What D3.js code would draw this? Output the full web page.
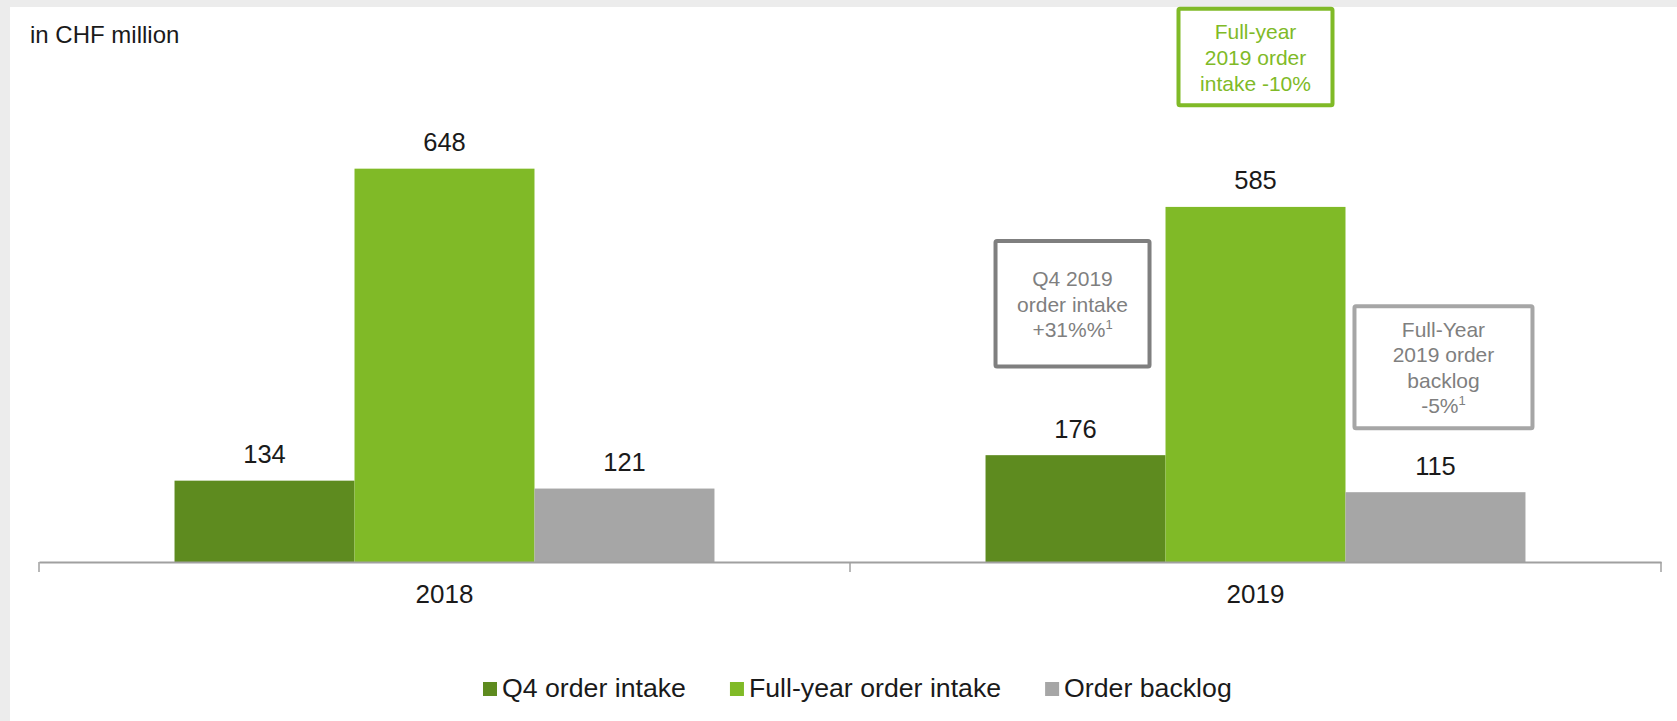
<!DOCTYPE html>
<html>
<head>
<meta charset="utf-8">
<script src="https://cdn.jsdelivr.net/npm/d3@7"></script>
<style>
  html, body { margin: 0; padding: 0; background: #ececec; }
  svg { display: block; font-family: "Liberation Sans", Arial, sans-serif; }
</style>
</head>
<body>
<svg id="chart" width="1677" height="721"></svg>
<script>
// ---- Data ----
const categories = ["2018", "2019"];
const seriesNames = ["Q4 order intake", "Full-year order intake", "Order backlog"];
const q4Intake = [134, 176];
const fullYearIntake = [648, 585];
const orderBacklog = [121, 115];
const seriesColors = ["#5e8b1f", "#80ba27", "#a6a6a6"];
const unitLabel = "in CHF million";
const noteFullYear = ["Full-year", "2019 order", "intake -10%"];
const noteQ4 = ["Q4 2019", "order intake", "+31%%"];
const noteBacklog = ["Full-Year", "2019 order", "backlog", "-5%"];

const seriesValues = [q4Intake, fullYearIntake, orderBacklog];
const rows = categories.map((c, i) => ({
  cat: c,
  vals: seriesNames.map((s, j) => ({ series: s, idx: j, value: seriesValues[j][i] }))
}));

const W = 1677, H = 721;
const svg = d3.select("#chart");

// panel background
svg.append("rect").attr("x", 10).attr("y", 7).attr("width", W - 10).attr("height", H - 7).attr("fill", "#ffffff");

// ---- Scales ----
const baseY = 562;
const x0 = d3.scaleBand().domain(categories).range([39, 1661]).paddingInner(0).paddingOuter(0);
const x1 = d3.scaleBand().domain(seriesNames).range([0, x0.bandwidth()]).paddingInner(0).paddingOuter(0.753);
const y = d3.scaleLinear().domain([0, 700]).range([baseY, baseY - 700 * 0.607]);

// ---- Bars ----
const g = svg.append("g");
const groups = g.selectAll("g.grp").data(rows).join("g")
  .attr("class", "grp")
  .attr("transform", d => `translate(${x0(d.cat)},0)`);

groups.selectAll("rect").data(d => d.vals).join("rect")
  .attr("x", d => x1(d.series))
  .attr("y", d => y(d.value))
  .attr("width", x1.bandwidth())
  .attr("height", d => y(0) - y(d.value))
  .attr("fill", d => seriesColors[d.idx]);

groups.selectAll("text.val").data(d => d.vals).join("text")
  .attr("class", "val")
  .attr("x", d => x1(d.series) + x1.bandwidth() / 2)
  .attr("y", d => y(d.value) - 17.5)
  .attr("text-anchor", "middle")
  .attr("font-size", "25.5px")
  .attr("fill", "#1a1a1a")
  .text(d => d.value);

// ---- Axis ----
const axis = svg.append("g").attr("transform", `translate(0,${baseY})`)
  .call(d3.axisBottom(x0).tickSize(0).tickPadding(23));
axis.select(".domain").attr("stroke", "#a0a0a0").attr("stroke-width", 2);
axis.selectAll(".tick text")
  .attr("font-size", "26px")
  .attr("fill", "#1a1a1a")
  .attr("font-family", "Liberation Sans, Arial, sans-serif");
// boundary ticks
const bounds = categories.map(c => x0(c)).concat([x0(categories[categories.length - 1]) + x0.bandwidth()]);
axis.selectAll("line.bt").data(bounds).join("line")
  .attr("class", "bt")
  .attr("x1", d => d).attr("x2", d => d)
  .attr("y1", 0).attr("y2", 10)
  .attr("stroke", "#a0a0a0").attr("stroke-width", 1.5);

// ---- Unit label ----
svg.append("text").attr("x", 30).attr("y", 43).attr("font-size", "24px").attr("fill", "#1a1a1a").text(unitLabel);

// ---- Legend ----
const legend = svg.append("g");
let lx = 483;
seriesNames.forEach((s, i) => {
  legend.append("rect").attr("x", lx).attr("y", 682).attr("width", 14).attr("height", 14).attr("fill", seriesColors[i]);
  const t = legend.append("text").attr("x", lx + 19).attr("y", 696.5)
    .attr("font-size", "26.7px").attr("fill", "#1a1a1a").text(s);
  lx += 19 + t.node().getComputedTextLength() + 44;
});

// ---- Annotation boxes ----
function noteBox(cx, top, w, h, stroke, textColor, lines, firstBaseline, lineGap, supLastLine) {
  const gb = svg.append("g");
  gb.append("rect")
    .attr("x", cx - w / 2 + 2).attr("y", top + 2)
    .attr("width", w - 4).attr("height", h - 4)
    .attr("rx", 1.5)
    .attr("fill", "#ffffff").attr("stroke", stroke).attr("stroke-width", 4);
  lines.forEach((ln, i) => {
    const t = gb.append("text")
      .attr("x", cx).attr("y", firstBaseline + i * lineGap)
      .attr("text-anchor", "middle").attr("font-size", "21px").attr("fill", textColor);
    t.append("tspan").text(ln);
    if (supLastLine && i === lines.length - 1) {
      t.append("tspan").attr("font-size", "13px").attr("dy", -8).text("1");
    }
  });
}
const c2019 = x0("2019");
noteBox(c2019 + x0.bandwidth() / 2, 6.7, 158, 100.6, "#80ba27", "#80ba27", noteFullYear, 39.3, 25.9, false);
noteBox(c2019 + x1(seriesNames[0]) + x1.bandwidth() / 2 - 3, 239, 158, 129.5, "#7f7f7f", "#7f7f7f", noteQ4, 285.7, 25.8, true);
noteBox(c2019 + x1(seriesNames[2]) + x1.bandwidth() / 2 + 8, 304.3, 182, 126, "#a6a6a6", "#7f7f7f", noteBacklog, 336.7, 25.5, true);
</script>
</body>
</html>
